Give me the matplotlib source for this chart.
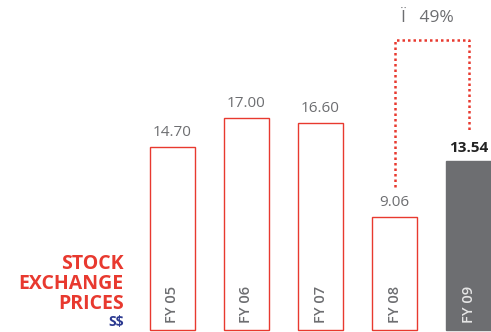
import matplotlib
matplotlib.use("Agg")
import matplotlib.pyplot as plt

years = ["FY 05", "FY 06", "FY 07", "FY 08", "FY 09"]
prices = [14.70, 17.00, 16.60, 9.06, 13.54]
change_label = "Ï   49%"

red = "#e8392f"
grey = "#6d6e71"

plt.rcParams["font.family"] = ["Open Sans", "DejaVu Sans"]

fig = plt.figure(figsize=(4.91, 3.32), dpi=100)
ax = fig.add_axes([0, 0, 1, 1])
ax.set_xlim(-2.331, 4.304)
ax.set_ylim(-0.16, 26.5)
ax.axis("off")

for i, (year, value) in enumerate(zip(years, prices)):
    last = i == len(years) - 1
    ax.bar(i, value, width=0.61, bottom=0,
           facecolor=grey if last else "white",
           edgecolor=grey if last else red, linewidth=1.0)
    ax.text(i, value + 0.55, f"{value:.2f}", ha="center", va="bottom",
            fontsize=11, color="#222222" if last else "#6d6e71",
            fontweight="bold" if last else "normal")
    ax.text(i, 0.55, year, rotation=90, ha="center", va="bottom",
            fontsize=10.5, fontweight="semibold",
            color="#e6e6e6" if last else "#6d6e71")

# dotted bracket from FY 08 to FY 09
top = 23.3
ax.plot([3, 3, 4, 4], [prices[3] + 2.4, top, top, prices[4] + 2.5],
        color=red, linestyle=(0, (1, 1.2)), linewidth=1.8)
ax.text(3.45, 24.4, change_label, ha="center", va="bottom",
        fontsize=12.5, color="#6d6e71")

# title block on the left
ax.text(-0.66, 1.3, "STOCK\nEXCHANGE\nPRICES", ha="right", va="bottom",
        fontsize=14, fontweight="bold", color=red, linespacing=1.0)
ax.text(-0.66, 0.05, "S$", ha="right", va="bottom",
        fontsize=10, fontweight="bold", color="#2b3990")

fig.savefig("out.png", dpi=100)
